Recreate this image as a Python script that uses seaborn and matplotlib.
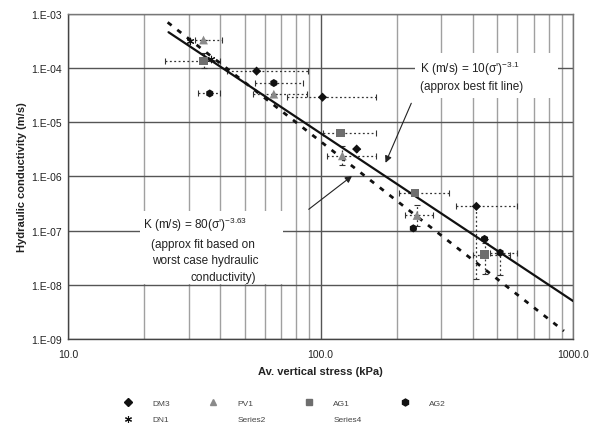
import numpy as np
import matplotlib
matplotlib.use('Agg')
import matplotlib.pyplot as plt
import seaborn as sns
from matplotlib.lines import Line2D
from matplotlib.patches import Rectangle
from matplotlib.ticker import FuncFormatter, LogLocator, NullFormatter

# valeurs (contrainte en kPa, K en m/s, bornes des barres)
dm3_x = [55.8, 101.8, 139, 414]
dm3_y = [8.8e-5, 2.9e-5, 3.2e-6, 2.8e-7]
dm3_xlo = [42.5, 73.5, 139, 345]
dm3_xhi = [88.8, 166, 139, 600]
dm3_ylo = [8.8e-5, 2.9e-5, 3.2e-6, 1.3e-8]
dm3_yhi = [8.8e-5, 2.9e-5, 3.2e-6, 2.8e-7]

pv1_x = [34.4, 65.3, 122, 241]
pv1_y = [3.3e-4, 3.3e-5, 2.4e-6, 1.9e-7]
pv1_xlo = [31.8, 54, 106, 215]
pv1_xhi = [40.6, 88, 166, 280]
pv1_ylo = [3.3e-4, 3.3e-5, 1.6e-6, 1.2e-7]
pv1_yhi = [3.3e-4, 3.3e-5, 3.6e-6, 3.0e-7]

ag1_x = [34.4, 120, 236, 446]
ag1_y = [1.35e-4, 6.3e-6, 5.0e-7, 3.6e-8]
ag1_xlo = [24.2, 101.8, 205, 400]
ag1_xhi = [39.9, 166, 324, 560]
ag1_ylo = [1.0e-4, 6.3e-6, 5.0e-7, 1.6e-8]
ag1_yhi = [1.9e-4, 6.3e-6, 5.0e-7, 6.0e-8]

ag2_x = [36.4, 65.3, 233, 446, 514]
ag2_y = [3.4e-5, 5.3e-5, 1.1e-7, 7.0e-8, 3.9e-8]
ag2_xlo = [32.6, 55, 233, 446, 470]
ag2_xhi = [39.9, 85, 233, 446, 600]
ag2_ylo = [3.4e-5, 5.3e-5, 1.1e-7, 7.0e-8, 1.5e-8]
ag2_yhi = [3.4e-5, 5.3e-5, 1.1e-7, 7.0e-8, 3.9e-8]

dn1_x = [30.3, 36.8]
dn1_y = [3.2e-4, 1.5e-4]

# droites d'ajustement (extrémités)
best_x = [25, 1000]
best_y = [4.6e-4, 5.0e-9]
worst_x = [24.8, 920]
worst_y = [7.0e-4, 1.4e-9]

sns.set_style('white')
plt.rcParams['font.family'] = ['Liberation Sans', 'DejaVu Sans']
plt.rcParams['mathtext.fontset'] = 'custom'
plt.rcParams['mathtext.rm'] = 'Liberation Sans'
plt.rcParams['mathtext.it'] = 'Liberation Sans:italic'

fig = plt.figure(figsize=(5.89, 4.27), dpi=100)
ax = fig.add_axes([0.1155, 0.204, 0.8575, 0.761])
ax.set_xscale('log')
ax.set_yscale('log')
ax.set_xlim(10, 1000)
ax.set_ylim(1e-9, 1e-3)
ax.set_axisbelow(True)

# quadrillage
ax.xaxis.set_major_locator(LogLocator(base=10))
ax.xaxis.set_minor_locator(LogLocator(base=10, subs=np.arange(2, 10)))
ax.xaxis.set_minor_formatter(NullFormatter())
ax.yaxis.set_major_locator(LogLocator(base=10, numticks=10))
ax.yaxis.set_minor_locator(LogLocator(base=10, subs=[]))
ax.grid(True, which='major', color='#555555', lw=1.0)
ax.grid(True, which='minor', axis='x', color='#a0a0a0', lw=1.0)

ax.xaxis.set_major_formatter(FuncFormatter(lambda v, p: f'{v:.1f}'))
ax.yaxis.set_major_formatter(
    FuncFormatter(lambda v, p: f'1.E-{abs(int(round(np.log10(v)))):02d}'))
ax.tick_params(axis='both', which='major', direction='inout', length=5,
               width=0.8, color='#444444', labelsize=7.5, labelcolor='#222222', pad=2)
ax.tick_params(axis='x', which='major', pad=5)
ax.tick_params(axis='x', which='minor', length=0)
for s in ['left', 'bottom']:
    ax.spines[s].set_color('#444444')
    ax.spines[s].set_linewidth(1.0)
for s in ['top', 'right']:
    ax.spines[s].set_color('#777777')
    ax.spines[s].set_linewidth(1.0)

# barres de dispersion (pointillés)
series = [
    (dm3_x, dm3_y, dm3_xlo, dm3_xhi, dm3_ylo, dm3_yhi),
    (pv1_x, pv1_y, pv1_xlo, pv1_xhi, pv1_ylo, pv1_yhi),
    (ag1_x, ag1_y, ag1_xlo, ag1_xhi, ag1_ylo, ag1_yhi),
    (ag2_x, ag2_y, ag2_xlo, ag2_xhi, ag2_ylo, ag2_yhi),
]
for x, y, xlo, xhi, ylo, yhi in series:
    x = np.array(x); y = np.array(y)
    xerr = [x - np.array(xlo), np.array(xhi) - x]
    yerr = [y - np.array(ylo), np.array(yhi) - y]
    eb = ax.errorbar(x, y, xerr=xerr, yerr=yerr, fmt='none', ecolor='#333333',
                     elinewidth=0.9, capsize=2, capthick=0.8, zorder=2)
    for lc in eb[2]:
        lc.set_linestyle((0, (1.5, 2)))

# droites
sns.lineplot(x=best_x, y=best_y, ax=ax, color='#111111', lw=1.6, zorder=3)
sns.lineplot(x=worst_x, y=worst_y, ax=ax, color='#111111', lw=2.0,
             dashes=False, zorder=3).lines[-1].set_dashes((1.8, 2.6))

# points
sns.scatterplot(x=dm3_x, y=dm3_y, ax=ax, marker='D', s=22, color='#111111',
                edgecolor='none', zorder=4)
sns.scatterplot(x=pv1_x, y=pv1_y, ax=ax, marker='^', s=40, color='#8a8a8a',
                edgecolor='none', zorder=4)
sns.scatterplot(x=ag1_x, y=ag1_y, ax=ax, marker='s', s=36, color='#6e6e6e',
                edgecolor='none', zorder=4)
sns.scatterplot(x=ag2_x, y=ag2_y, ax=ax, marker='h', s=34, color='#111111',
                edgecolor='none', zorder=4)
sns.scatterplot(x=dn1_x, y=dn1_y, ax=ax, marker=(6, 2, 0), s=22, color='#111111',
                linewidth=0.8, zorder=4)

# encadrés d'annotation
ax.add_patch(Rectangle((0.687, 0.741), 0.283, 0.139, transform=ax.transAxes,
                       facecolor='white', edgecolor='none', zorder=2.5))
ax.text(0.697, 0.835, r"K (m/s) = 10(σ')$^{\mathrm{-3.1}}$", transform=ax.transAxes,
        fontsize=8.5, color='#222222', ha='left', va='center', zorder=5)
ax.text(0.697, 0.777, '(approx best fit line)', transform=ax.transAxes,
        fontsize=8.5, color='#222222', ha='left', va='center', zorder=5)

ax.add_patch(Rectangle((0.143, 0.170), 0.283, 0.225, transform=ax.transAxes,
                       facecolor='white', edgecolor='none', zorder=2.5))
ax.text(0.148, 0.355, r"K (m/s) = 80(σ')$^{\mathrm{-3.63}}$", transform=ax.transAxes,
        fontsize=8.5, color='#222222', ha='left', va='center', zorder=5)
ax.text(0.268, 0.293, '(approx fit based on', transform=ax.transAxes,
        fontsize=8.5, color='#222222', ha='center', va='center', zorder=5)
ax.text(0.272, 0.244, 'worst case hydraulic', transform=ax.transAxes,
        fontsize=8.5, color='#222222', ha='center', va='center', zorder=5)
ax.text(0.307, 0.191, 'conductivity)', transform=ax.transAxes,
        fontsize=8.5, color='#222222', ha='center', va='center', zorder=5)

ax.annotate('', xy=(179, 1.6e-6), xytext=(231, 2.5e-5),
            arrowprops=dict(arrowstyle='-|>', color='#222222', lw=0.8,
                            mutation_scale=10), zorder=5)
ax.annotate('', xy=(136, 1.1e-6), xytext=(88, 2.3e-7),
            arrowprops=dict(arrowstyle='-|>', color='#222222', lw=0.8,
                            mutation_scale=10), zorder=5)

ax.set_xlabel('Av. vertical stress (kPa)', fontsize=8, fontweight='bold',
              color='#222222', labelpad=5)
ax.set_ylabel('Hydraulic conductivity (m/s)', fontsize=8, fontweight='bold',
              color='#222222', labelpad=3)

# légende en bas (ordre par colonnes)
h_dm3 = Line2D([], [], ls='none', marker='D', ms=4, color='#111111')
h_dn1 = Line2D([], [], ls='none', marker=(6, 2, 0), ms=5, color='#111111', mew=0.8)
h_pv1 = Line2D([], [], ls='none', marker='^', ms=5, color='#8a8a8a')
h_s2 = Line2D([], [], ls='none')
h_ag1 = Line2D([], [], ls='none', marker='s', ms=5, color='#6e6e6e')
h_s4 = Line2D([], [], ls='none')
h_ag2 = Line2D([], [], ls='none', marker='h', ms=5, color='#111111')
leg = fig.legend([h_dm3, h_dn1, h_pv1, h_s2, h_ag1, h_s4, h_ag2],
                 ['DM3', 'DN1', 'PV1', 'Series2', 'AG1', 'Series4', 'AG2'],
                 ncol=4, loc='center', bbox_to_anchor=(0.48, 0.034), frameon=False,
                 fontsize=6, handlelength=2, handletextpad=1.9,
                 columnspacing=4.2, labelspacing=1.0)
for t in leg.get_texts():
    t.set_color('#444444')

fig.savefig('out.png', dpi=100, facecolor='white')
